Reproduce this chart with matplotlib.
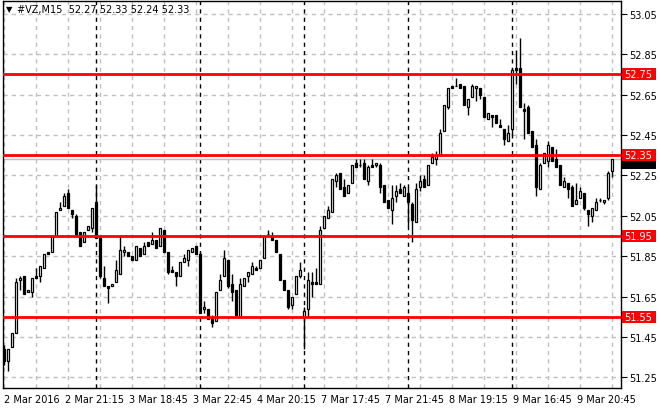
import matplotlib
matplotlib.use("Agg")
import matplotlib.pyplot as plt
import matplotlib.transforms as mtransforms
from matplotlib.patches import Rectangle
import numpy as np

# 15 minute bars, 2 Mar 2016 17:15 .. 9 Mar 2016 22:45
opens = [51.39, 51.33, 51.40, 51.47, 51.73, 51.75, 51.67, 51.67, 51.75, 51.75,
         51.79, 51.87, 51.87, 51.95, 52.08, 52.10, 52.16, 52.08, 52.05, 51.97,
         51.92, 51.98, 51.99, 52.12, 51.95, 51.74, 51.70, 51.70, 51.72, 51.76,
         51.87, 51.87, 51.85, 51.83, 51.89, 51.86, 51.92, 51.91, 51.93, 51.90,
         51.98, 51.87, 51.78, 51.77, 51.75, 51.82, 51.83, 51.87, 51.90, 51.86,
         51.59, 51.59, 51.54, 51.53, 51.68, 51.75, 51.83, 51.71, 51.68, 51.55,
         51.70, 51.75, 51.76, 51.79, 51.79, 51.84, 51.96, 51.95, 51.93, 51.86,
         51.73, 51.68, 51.61, 51.66, 51.75, 51.55, 51.59, 51.72, 51.72, 51.71,
         51.99, 52.04, 52.07, 52.22, 52.26, 52.19, 52.16, 52.21, 52.31, 52.30,
         52.31, 52.22, 52.30, 52.30, 52.30, 52.20, 52.13, 52.08, 52.15, 52.18,
         52.15, 52.16, 52.11, 52.02, 52.19, 52.23, 52.20, 52.31, 52.33, 52.35,
         52.47, 52.59, 52.69, 52.69, 52.70, 52.69, 52.59, 52.64, 52.68, 52.68,
         52.64, 52.53, 52.55, 52.55, 52.50, 52.48, 52.42, 52.48, 52.78, 52.78,
         52.58, 52.59, 52.47, 52.40, 52.18, 52.31, 52.32, 52.39, 52.33, 52.30,
         52.19, 52.21, 52.19, 52.11, 52.14, 52.16, 52.08, 52.05, 52.08, 52.13,
         52.12, 52.14, 52.27]
highs = [51.41, 51.39, 51.47, 51.74, 51.75, 51.75, 51.68, 51.74, 51.79, 51.80,
         51.86, 51.87, 51.95, 52.07, 52.12, 52.16, 52.18, 52.08, 52.06, 51.97,
         51.97, 52.00, 52.09, 52.20, 51.95, 51.80, 51.70, 51.71, 51.83, 51.95,
         51.90, 51.87, 51.85, 51.90, 51.89, 51.92, 51.92, 51.97, 51.93, 51.99,
         51.98, 51.87, 51.80, 51.77, 51.82, 51.86, 51.88, 51.89, 51.90, 51.87,
         51.63, 51.59, 51.56, 51.67, 51.76, 51.88, 51.83, 51.76, 51.68, 51.74,
         51.74, 51.77, 51.82, 51.80, 51.83, 51.95, 51.98, 51.97, 51.93, 51.86,
         51.73, 51.68, 51.65, 51.75, 51.82, 51.60, 51.77, 51.77, 51.79, 52.00,
         52.05, 52.10, 52.23, 52.26, 52.26, 52.23, 52.20, 52.30, 52.33, 52.33,
         52.33, 52.30, 52.33, 52.31, 52.31, 52.20, 52.13, 52.20, 52.20, 52.21,
         52.20, 52.19, 52.12, 52.21, 52.25, 52.25, 52.30, 52.36, 52.37, 52.48,
         52.60, 52.68, 52.69, 52.73, 52.70, 52.69, 52.63, 52.70, 52.69, 52.68,
         52.64, 52.56, 52.55, 52.55, 52.53, 52.48, 52.50, 52.78, 52.87, 52.93,
         52.61, 52.60, 52.47, 52.43, 52.31, 52.36, 52.42, 52.39, 52.38, 52.30,
         52.24, 52.21, 52.20, 52.21, 52.19, 52.16, 52.08, 52.09, 52.14, 52.14,
         52.13, 52.27, 52.33]
lows = [51.31, 51.28, 51.40, 51.47, 51.68, 51.66, 51.67, 51.65, 51.74, 51.72,
        51.79, 51.86, 51.87, 51.95, 52.08, 52.10, 52.09, 52.04, 51.95, 51.90,
        51.92, 51.98, 51.97, 51.94, 51.74, 51.70, 51.62, 51.70, 51.72, 51.76,
        51.85, 51.85, 51.83, 51.83, 51.85, 51.86, 51.90, 51.91, 51.89, 51.90,
        51.87, 51.76, 51.77, 51.70, 51.75, 51.82, 51.80, 51.87, 51.86, 51.57,
        51.57, 51.54, 51.50, 51.53, 51.68, 51.75, 51.69, 51.63, 51.56, 51.55,
        51.70, 51.72, 51.76, 51.78, 51.79, 51.84, 51.96, 51.93, 51.87, 51.73,
        51.68, 51.59, 51.59, 51.66, 51.74, 51.39, 51.55, 51.65, 51.71, 51.71,
        51.99, 52.04, 52.07, 52.19, 52.18, 52.15, 52.16, 52.21, 52.29, 52.29,
        52.23, 52.20, 52.29, 52.29, 52.16, 52.12, 52.09, 52.01, 52.12, 52.16,
        52.15, 52.00, 51.92, 52.02, 52.17, 52.19, 52.20, 52.31, 52.30, 52.35,
        52.47, 52.58, 52.68, 52.69, 52.68, 52.60, 52.55, 52.64, 52.62, 52.63,
        52.54, 52.53, 52.49, 52.51, 52.49, 52.40, 52.42, 52.45, 52.70, 52.59,
        52.43, 52.46, 52.39, 52.15, 52.18, 52.31, 52.29, 52.32, 52.29, 52.20,
        52.19, 52.14, 52.10, 52.11, 52.14, 52.08, 52.00, 52.02, 52.08, 52.12,
        52.11, 52.13, 52.24]
closes = [51.33, 51.39, 51.47, 51.72, 51.74, 51.66, 51.68, 51.74, 51.74, 51.80,
          51.86, 51.86, 51.95, 52.07, 52.09, 52.15, 52.09, 52.06, 51.96, 51.90,
          51.97, 52.00, 52.09, 51.94, 51.75, 51.70, 51.69, 51.71, 51.78, 51.88,
          51.88, 51.85, 51.83, 51.90, 51.85, 51.90, 51.90, 51.93, 51.89, 51.99,
          51.87, 51.77, 51.77, 51.75, 51.82, 51.84, 51.88, 51.89, 51.86, 51.57,
          51.60, 51.54, 51.52, 51.67, 51.73, 51.84, 51.70, 51.67, 51.56, 51.71,
          51.74, 51.77, 51.80, 51.78, 51.83, 51.95, 51.96, 51.93, 51.87, 51.73,
          51.68, 51.60, 51.65, 51.75, 51.78, 51.58, 51.73, 51.71, 51.71, 51.98,
          52.05, 52.08, 52.23, 52.25, 52.18, 52.15, 52.20, 52.30, 52.29, 52.30,
          52.23, 52.29, 52.29, 52.31, 52.19, 52.12, 52.09, 52.14, 52.17, 52.16,
          52.19, 52.12, 52.03, 52.18, 52.22, 52.19, 52.30, 52.34, 52.35, 52.46,
          52.60, 52.68, 52.68, 52.69, 52.68, 52.60, 52.63, 52.69, 52.69, 52.65,
          52.54, 52.56, 52.54, 52.51, 52.49, 52.43, 52.46, 52.77, 52.77, 52.59,
          52.57, 52.46, 52.39, 52.19, 52.30, 52.36, 52.40, 52.32, 52.29, 52.20,
          52.22, 52.18, 52.10, 52.13, 52.17, 52.09, 52.06, 52.09, 52.12, 52.13,
          52.13, 52.26, 52.33]

levels = [52.75, 52.35, 51.95, 51.55]
bid = 52.33
price_ticks = [53.05, 52.85, 52.65, 52.45, 52.25, 52.05, 51.85, 51.65, 51.45, 51.25]
time_ticks = [0, 16, 32, 48, 64, 80, 96, 112, 128, 144]
time_labels = ["2 Mar 2016", "2 Mar 21:15", "3 Mar 18:45", "3 Mar 22:45", "4 Mar 20:15",
               "7 Mar 17:45", "7 Mar 21:45", "8 Mar 19:15", "9 Mar 16:45", "9 Mar 20:45"]
day_starts = [23, 49, 75, 101, 127]

o = np.array(opens)
h = np.array(highs)
l = np.array(lows)
c = np.array(closes)
idx = np.arange(len(o))

plt.rcParams['font.family'] = ['DejaVu Sans']
fig = plt.figure(figsize=(6.6, 4.1), dpi=100)
ax = fig.add_axes([3 / 660, 21 / 410, 618 / 660, 387 / 410])
ax.set_xlim(-0.2, 154.3)
ax.set_ylim(51.197, 53.113)

grid_col = "#c0c0c0"
for p in price_ticks:
    ax.axhline(p, color=grid_col, lw=1, ls=(0, (3, 3)), zorder=0)
for g in range(0, 155, 8):
    ax.axvline(g, color=grid_col, lw=1, ls=(0, (3, 3)), zorder=0)
for d in day_starts:
    ax.axvline(d, color="black", lw=1, ls=(0, (3, 3)), zorder=1)

ax.axhline(bid, color=grid_col, lw=1, zorder=1)

# candles
ax.vlines(idx, l, h, color="black", lw=1, zorder=2)
up = c >= o
body_bottom = np.minimum(o, c)
body_height = np.abs(c - o)
ax.bar(idx[up], body_height[up], bottom=body_bottom[up], width=0.6,
       facecolor="white", edgecolor="black", linewidth=0.9, zorder=3)
ax.bar(idx[~up], body_height[~up], bottom=body_bottom[~up], width=0.6,
       facecolor="black", edgecolor="black", linewidth=0.9, zorder=3)

for lv in levels:
    ax.axhline(lv, color="#ff0000", lw=2, zorder=4)

# axes styling
for s in ax.spines.values():
    s.set_color("black")
    s.set_linewidth(1)
ax.yaxis.tick_right()
ax.set_yticks(price_ticks)
ax.set_yticklabels([f"{p:.2f}" for p in price_ticks])
ax.tick_params(axis="y", direction="out", length=4, pad=2, labelsize=7, colors="black")
ax.set_xticks(time_ticks)
ax.set_xticklabels(time_labels)
ax.tick_params(axis="x", direction="out", length=0, pad=4, labelsize=7)
shift = mtransforms.ScaledTranslation(-3 / 100, 0, fig.dpi_scale_trans)
for k, lab in enumerate(ax.get_xticklabels()):
    lab.set_horizontalalignment("left")
    if k > 0:
        lab.set_transform(lab.get_transform() + shift)

# price labels on the right scale
trans = mtransforms.blended_transform_factory(ax.transAxes, ax.transData)
box_w = 34 / 618
box_h = 12 / 202
ax.add_patch(Rectangle((1.0016, bid - 0.8 * box_h), box_w, box_h, transform=trans,
                       facecolor="black", edgecolor="none", clip_on=False, zorder=5))
for lv in levels:
    ax.add_patch(Rectangle((1.0016, lv - box_h / 2), box_w, box_h, transform=trans,
                           facecolor="#ff0000", edgecolor="none", clip_on=False, zorder=7))
    ax.text(1.0016 + 0.004, lv, f"{lv:.2f}", transform=trans, color="white", fontsize=7,
            va="center", ha="left", clip_on=False, zorder=8)

# header
fig.text(6 / 660, 1 - 10 / 410, "\u25bc", fontsize=6, va="center", ha="left")
fig.text(17 / 660, 1 - 10 / 410, "#VZ,M15  52.27 52.33 52.24 52.33", fontsize=7,
         va="center", ha="left")

fig.savefig("out.png", dpi=100)
